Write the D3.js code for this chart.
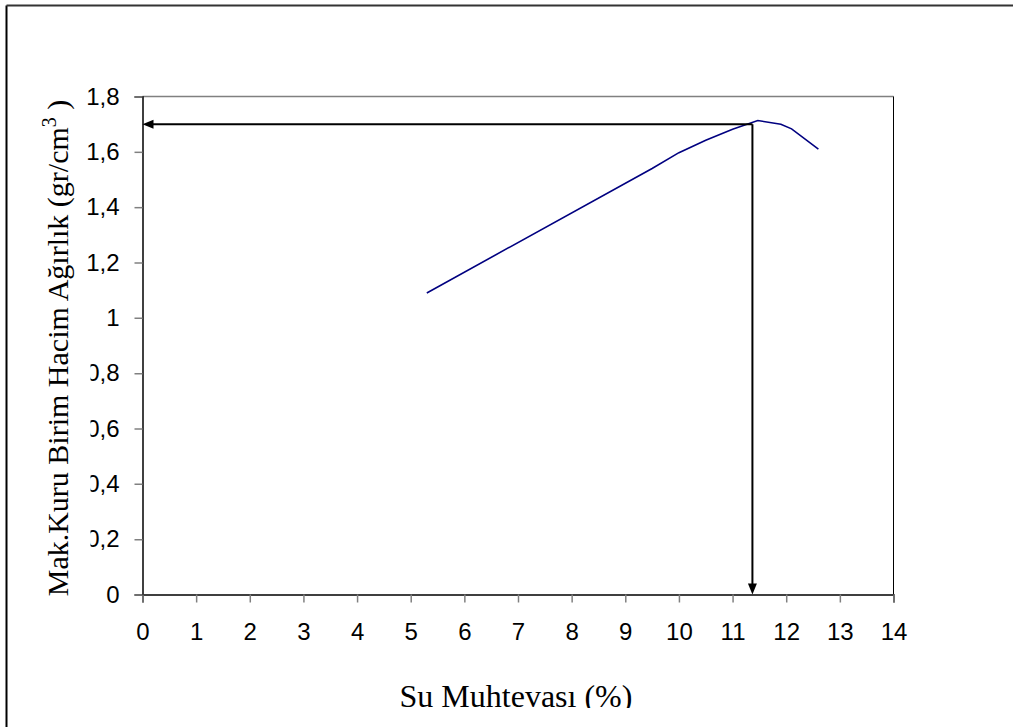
<!DOCTYPE html>
<html><head><meta charset="utf-8">
<script src="https://cdn.jsdelivr.net/npm/d3@7"></script>
<style>html,body{margin:0;padding:0;background:#fff;}svg{display:block;}</style>
</head><body>
<script>
const moisture = [5.3, 9.5, 10.0, 10.5, 11.0, 11.47, 11.9, 12.1, 12.6];
const density  = [1.09, 1.54, 1.597, 1.642, 1.682, 1.713, 1.70, 1.683, 1.61];
const optMoisture = 11.37;
const optDensity = 1.70;
const xTicks = [0,1,2,3,4,5,6,7,8,9,10,11,12,13,14];
const yTicks = [0,0.2,0.4,0.6,0.8,1,1.2,1.4,1.6,1.8];
const yTickLabels = ["0","0,2","0,4","0,6","0,8","1","1,2","1,4","1,6","1,8"];
const xTitle = "Su Muhtevası (%)";

const W = 1013, H = 727;
const svg = d3.select("body").append("svg").attr("width", W).attr("height", H);
const defs = svg.append("defs");
defs.append("clipPath").attr("id","chartclip").append("rect").attr("x",0).attr("y",0).attr("width",W).attr("height",708);
const yc = defs.append("clipPath").attr("id","ylabclip");
yc.append("rect").attr("x",0).attr("y",0).attr("width",W).attr("height",345);
yc.append("rect").attr("x",90.5).attr("y",345).attr("width",W).attr("height",H);

// outer frame
svg.append("line").attr("x1",6.5).attr("x2",6.5).attr("y1",5.5).attr("y2",H).attr("stroke","#000").attr("stroke-width",2);
svg.append("line").attr("x1",6.5).attr("x2",W).attr("y1",5.5).attr("y2",5.5).attr("stroke","#333").attr("stroke-width",2);

const x = d3.scaleLinear().domain([0,14]).range([142.5,893.5]);
const y = d3.scaleLinear().domain([0,1.8]).range([594.5,96.5]);

// plot border
svg.append("line").attr("x1",x(0)).attr("x2",x(14)).attr("y1",y(1.8)).attr("y2",y(1.8)).attr("stroke","#808080").attr("stroke-width",1.5);
svg.append("line").attr("x1",x(14)).attr("x2",x(14)).attr("y1",y(1.8)).attr("y2",y(0)).attr("stroke","#000").attr("stroke-width",1);

// y axis (lower labels clipped on the left like the source)
const yLabG = svg.append("g").attr("clip-path","url(#ylabclip)");
const yAxis = yLabG.append("g").attr("transform",`translate(${x(0)},0)`)
  .call(d3.axisLeft(y).tickValues(yTicks).tickSize(8).tickPadding(15).tickFormat((d,i)=>yTickLabels[i]));
yAxis.select(".domain").attr("stroke","#000").attr("stroke-width",1.5);
yAxis.selectAll(".tick line").attr("stroke","#808080").attr("stroke-width",1.5);
yAxis.selectAll(".tick text").attr("font-family","'Liberation Sans', Arial, sans-serif").attr("font-size",24).attr("fill","#000");

// x axis
const xAxis = svg.append("g").attr("transform",`translate(0,${y(0)})`)
  .call(d3.axisBottom(x).tickValues(xTicks).tickSize(8).tickPadding(20).tickFormat(d3.format("d")));
xAxis.select(".domain").attr("stroke","#000").attr("stroke-width",1.5);
xAxis.selectAll(".tick line").attr("stroke","#808080").attr("stroke-width",1.5);
xAxis.selectAll(".tick text").attr("font-family","'Liberation Sans', Arial, sans-serif").attr("font-size",24).attr("fill","#000");

// curve
const pts = moisture.map((m,i)=>[m,density[i]]);
svg.append("path").datum(pts)
  .attr("d", d3.line().x(d=>x(d[0])).y(d=>y(d[1])))
  .attr("fill","none").attr("stroke","#000080").attr("stroke-width",1.6);

// arrows
const ox = x(optMoisture), oy = y(optDensity);
svg.append("line").attr("x1",ox).attr("x2",x(0)+10).attr("y1",oy).attr("y2",oy).attr("stroke","#000").attr("stroke-width",2);
svg.append("path").attr("d",`M${x(0)},${oy}L${x(0)+11},${oy-4.5}L${x(0)+11},${oy+4.5}Z`).attr("fill","#000");
svg.append("line").attr("x1",ox).attr("x2",ox).attr("y1",oy).attr("y2",y(0)-10).attr("stroke","#000").attr("stroke-width",2);
svg.append("path").attr("d",`M${ox},${y(0)}L${ox-4.5},${y(0)-11}L${ox+4.5},${y(0)-11}Z`).attr("fill","#000");

// y title
const yt = svg.append("text").attr("transform","translate(68,348) rotate(-90)")
  .attr("text-anchor","middle").attr("font-family","'Liberation Serif','Times New Roman',serif").attr("font-size",30).attr("fill","#000");
yt.append("tspan").text("Mak.Kuru Birim Hacim Ağırlık (gr/cm");
yt.append("tspan").attr("font-size",20).attr("dy",-12).text("3");
yt.append("tspan").attr("dy",12).text(" )");

// x title
svg.append("g").attr("clip-path","url(#chartclip)").append("text")
  .attr("x",516).attr("y",707).attr("text-anchor","middle")
  .attr("font-family","'Liberation Serif','Times New Roman',serif").attr("font-size",32).attr("fill","#000")
  .text(xTitle);
</script>
</body></html>
